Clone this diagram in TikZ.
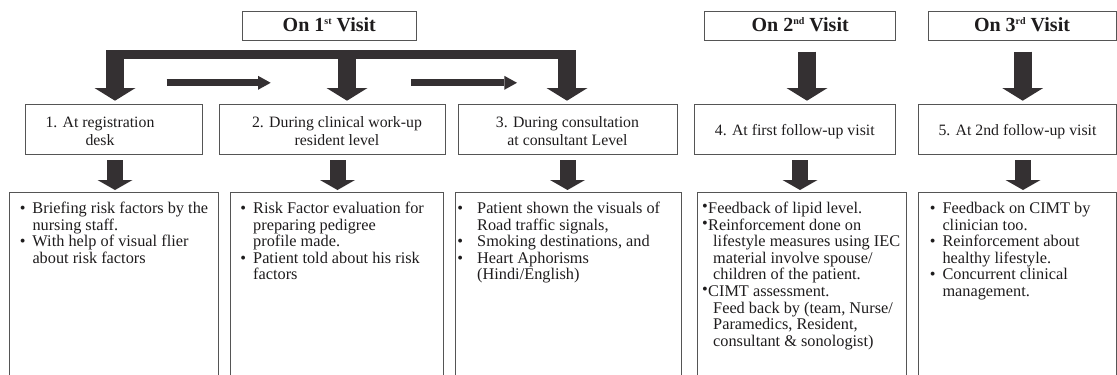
\documentclass[tikz,border=0pt]{standalone}
\usepackage{fontspec}
\setmainfont{Liberation Serif}
\usetikzlibrary{arrows.meta}
\definecolor{arrc}{RGB}{52,48,50}
\definecolor{boxc}{RGB}{85,85,85}
\definecolor{txtc}{RGB}{30,28,29}
\newcommand{\bul}[1]{\leavevmode\llap{\textbullet\hspace{#1}}}
\newcommand{\bulr}{\leavevmode\hspace*{-5pt}\llap{\raisebox{1.8pt}{\textbullet}\hspace{0.5pt}}}
\newcommand{\supx}[1]{\raisebox{6.8pt}{\fontsize{10}{10}\selectfont #1}}
\begin{document}
\begin{tikzpicture}[x=1pt,y=-1pt,
  box/.style={draw=boxc, line width=1pt, inner sep=0pt, outer sep=0pt, anchor=north west},
  ttl/.style={text=txtc, inner sep=0pt, anchor=base, font=\fontsize{20}{24}\selectfont\bfseries},
  stg/.style={text=txtc, inner sep=0pt, anchor=base, font=\fontsize{15.8}{17.3}\selectfont},
  btxt/.style={text=txtc, inner sep=0pt, anchor=base west, font=\fontsize{16.3}{16.6}\selectfont},
  drop/.style={draw=arrc, line width=18pt, -{Triangle[width=41pt,length=12.7pt,line width=0pt]}},
  sdrop/.style={draw=arrc, line width=16pt, -{Triangle[width=35pt,length=10pt,line width=0pt]}},
  harr/.style={draw=arrc, line width=7pt, -{Triangle[width=14pt,length=12.7pt,line width=0pt]}}
]
\useasboundingbox (0,0) rectangle (1117,375);

% title boxes
\node[box, minimum width=174pt, minimum height=29.3pt] (t1) at (242.3,11) {};
\node[box, minimum width=191pt, minimum height=29.3pt] (t2) at (704.7,11) {};
\node[box, minimum width=187.7pt, minimum height=29.3pt] (t3) at (928.3,11) {};
\node[ttl] (t1l) at (329.3,31.7) {On 1\supx{st} Visit};
\node[ttl] (t2l) at (800.2,31.7) {On 2\supx{nd} Visit};
\node[ttl] (t3l) at (1022,31.7) {On 3\supx{rd} Visit};

% stage boxes
\node[box, minimum width=176.6pt, minimum height=49.7pt] (s1) at (25.7,104.3) {};
\node[box, minimum width=226pt, minimum height=49.7pt] (s2) at (219.3,104.3) {};
\node[box, minimum width=218.6pt, minimum height=49.7pt] (s3) at (458.7,104.3) {};
\node[box, minimum width=201.7pt, minimum height=49.7pt] (s4) at (694,104.3) {};
\node[box, minimum width=198pt, minimum height=49.7pt] (s5) at (918,104.3) {};
\node[stg] (s1l) at (100,127.7) {\parbox[t]{200pt}{\centering 1. At registration\\desk}};
\node[stg] (s2l) at (337,127.7) {\parbox[t]{220pt}{\centering 2. During clinical work-up\\resident level}};
\node[stg] (s3l) at (567.5,127.7) {\parbox[t]{220pt}{\centering 3. During consultation\\at consultant Level}};
\node[stg] (s4l) at (794.8,135) {4. At first follow-up visit};
\node[stg] (s5l) at (1017.5,135) {5. At 2nd follow-up visit};

% bottom boxes
\node[box, minimum width=209.3pt, minimum height=190pt] (b1) at (9,192.3) {};
\node[box, minimum width=213.7pt, minimum height=190pt] (b2) at (230,192.3) {};
\node[box, minimum width=226pt, minimum height=190pt] (b3) at (455.3,192.3) {};
\node[box, minimum width=209pt, minimum height=190pt] (b4) at (697.3,192.3) {};
\node[box, minimum width=198pt, minimum height=190pt] (b5) at (918,192.3) {};

\node[btxt] (b1l) at (32.3,213.5) {\parbox[t]{200pt}{\raggedright
\bul{7pt}Briefing risk factors by the\\
nursing staff.\\
\bul{7pt}With help of visual flier\\
about risk factors}};
\node[btxt] (b2l) at (253,213.5) {\parbox[t]{200pt}{\raggedright
\bul{7pt}Risk Factor evaluation for\\
preparing pedigree\\
profile made.\\
\bul{7pt}Patient told about his risk\\
factors}};
\node[btxt] (b3l) at (477,213.5) {\parbox[t]{210pt}{\raggedright
\bul{14pt}Patient shown the visuals of\\
Road traffic signals,\\
\bul{14pt}Smoking destinations, and\\
\bul{14pt}Heart Aphorisms\\
(Hindi/English)}};
\node[btxt] (b4l) at (713,213.5) {\parbox[t]{200pt}{\raggedright
\bulr Feedback of lipid level.\\
\bulr Reinforcement done on\\
lifestyle measures using IEC\\
material involve spouse/\\
children of the patient.\\
\bulr CIMT assessment.\\
Feed back by (team, Nurse/\\
Paramedics, Resident,\\
consultant \& sonologist)}};
\node[btxt] (b5l) at (942.3,213.5) {\parbox[t]{170pt}{\raggedright
\bul{7pt}Feedback on CIMT by\\
clinician too.\\
\bul{7pt}Reinforcement about\\
healthy lifestyle.\\
\bul{7pt}Concurrent clinical\\
management.}};

% fork from first visit
\coordinate (fl) at (106,54.65);
\coordinate (fr) at (576,54.65);
\draw[arrc, line width=9.3pt] (fl) -- (fr);
\coordinate (d1) at (115,50);
\coordinate (d2) at (347,50);
\coordinate (d3) at (567,50);
\draw[drop, shorten >=3.6pt] (d1) -- (d1 |- s1.north);
\draw[drop, shorten >=3.6pt] (d2) -- (d2 |- s2.north);
\draw[drop, shorten >=3.6pt] (d3) -- (d3 |- s3.north);

% horizontal flow arrows
\coordinate (h1a) at (166.7,82.8);
\coordinate (h1b) at (270.7,82.8);
\coordinate (h2a) at (411.3,82.8);
\coordinate (h2b) at (517,82.8);
\draw[harr] (h1a) -- (h1b);
\draw[harr] (h2a) -- (h2b);

% drops from visits 2 and 3
\coordinate (d4) at (807,51.7);
\coordinate (d5) at (1022.7,51.7);
\draw[drop, shorten >=3.6pt] (d4) -- (d4 |- s4.north);
\draw[drop, shorten >=3.6pt] (d5) -- (d5 |- s5.north);

% stage to details arrows
\coordinate (e1) at (115,160.3);
\coordinate (e2) at (337.5,160.3);
\coordinate (e3) at (567.5,160.3);
\coordinate (e4) at (800,160.3);
\coordinate (e5) at (1023,160.3);
\draw[sdrop, shorten >=2.3pt] (e1) -- (e1 |- b1.north);
\draw[sdrop, shorten >=2.3pt] (e2) -- (e2 |- b2.north);
\draw[sdrop, shorten >=2.3pt] (e3) -- (e3 |- b3.north);
\draw[sdrop, shorten >=2.3pt] (e4) -- (e4 |- b4.north);
\draw[sdrop, shorten >=2.3pt] (e5) -- (e5 |- b5.north);
\end{tikzpicture}
\end{document}
